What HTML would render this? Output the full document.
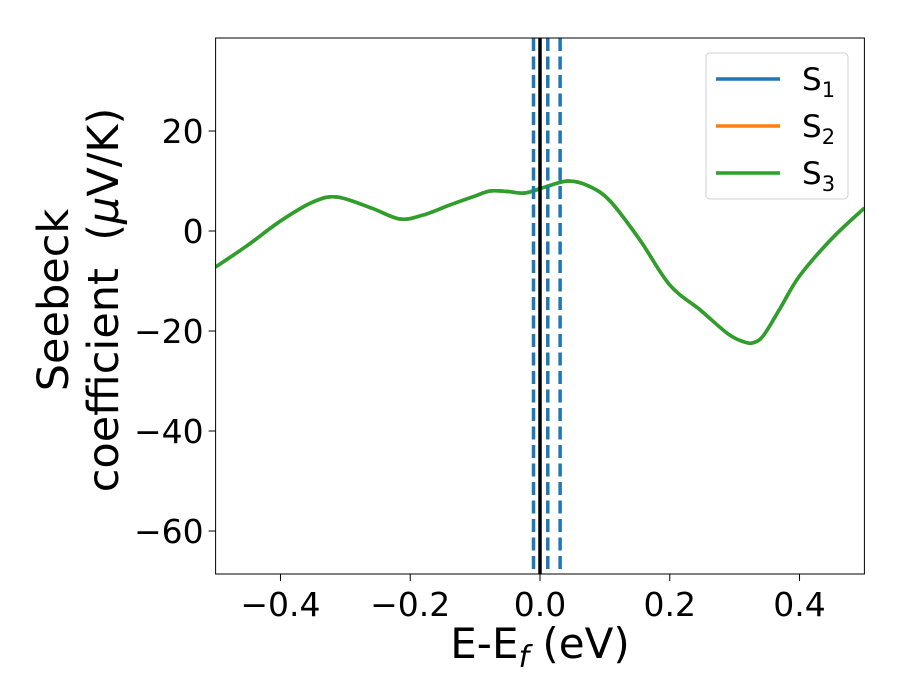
<!DOCTYPE html>
<html><head><meta charset="utf-8"><style>
body{margin:0;background:#fff}
svg{display:block;font-family:"DejaVu Sans","Liberation Sans",sans-serif}
</style></head><body>
<svg width="900" height="700" viewBox="0 0 900 700">
<g id="plot"></g>
</svg>
<script>
const energies=[-0.5,-0.45,-0.4,-0.35,-0.313,-0.26,-0.216,-0.18,-0.139,-0.1,-0.077,-0.05,-0.023,0.008,0.043,0.075,0.108,0.154,0.2,0.247,0.29,0.315,0.33,0.345,0.37,0.4,0.45,0.5];
const seebeck=[-7.2,-2.8,2,5.8,6.8,4.6,2.4,3.2,5.2,7,8,7.9,7.6,8.8,10,9,6,-1.8,-10.8,-15.8,-20.6,-22.2,-22.3,-20.8,-15.5,-9,-1.5,4.6];
const vlinesDashed=[-0.01,0.012,0.031];
const xTicks=[-0.4,-0.2,0.0,0.2,0.4];
const xTickLabels=["\u22120.4","\u22120.2","0.0","0.2","0.4"];
const yTicks=[20,0,-20,-40,-60];
const yTickLabels=["20","0","\u221220","\u221240","\u221260"];
const seriesNames=["1","2","3"];
const seriesColors=["#1f77b4","#ff7f0e","#2ca02c"];

const L=215.6,R=864.4,T=38,B=574;
const xMin=-0.5,xMax=0.5,yMin=-68.6,yMax=38.6;
const X=v=>L+(v-xMin)/(xMax-xMin)*(R-L);
const Y=v=>B-(v-yMin)/(yMax-yMin)*(B-T);
const NS="http://www.w3.org/2000/svg";
const g=document.getElementById('plot');
function mk(tag,attrs,parent){const e=document.createElementNS(NS,tag);for(const k in attrs)e.setAttribute(k,attrs[k]);(parent||g).appendChild(e);return e;}

const clip=mk('clipPath',{id:'c'});mk('rect',{x:L,y:T,width:R-L,height:B-T},clip);

const pts=energies.map((e,i)=>[X(e),Y(seebeck[i])]);
let d=`M${pts[0][0]},${pts[0][1]}`;
for(let i=0;i<pts.length-1;i++){const p0=pts[Math.max(0,i-1)],p1=pts[i],p2=pts[i+1],p3=pts[Math.min(pts.length-1,i+2)];
d+=` C${p1[0]+(p2[0]-p0[0])/6},${p1[1]+(p2[1]-p0[1])/6} ${p2[0]-(p3[0]-p1[0])/6},${p2[1]-(p3[1]-p1[1])/6} ${p2[0]},${p2[1]}`;}
seriesColors.forEach((c,i)=>{const p=mk('path',{d:d,fill:'none',stroke:c,'stroke-width':3.5,'clip-path':'url(#c)'});

});

vlinesDashed.forEach((v,i)=>{const l=mk('line',{x1:X(v),x2:X(v),y1:T,y2:B,stroke:'#1f77b4','stroke-width':3.5,'stroke-dasharray':'13,5.5'});

});
const fl=mk('line',{x1:X(0),x2:X(0),y1:T,y2:B,stroke:'#000','stroke-width':3.5});



const fr=mk('rect',{x:L,y:T,width:R-L,height:B-T,fill:'none',stroke:'#000','stroke-width':1});



xTicks.forEach((v,i)=>{mk('line',{x1:X(v),x2:X(v),y1:B,y2:B+7,stroke:'#000','stroke-width':1});
const t=mk('text',{x:X(v),y:B+42,'text-anchor':'middle','font-size':33});t.textContent=xTickLabels[i];

});
yTicks.forEach((v,i)=>{mk('line',{x1:L-7,x2:L,y1:Y(v),y2:Y(v),stroke:'#000','stroke-width':1});
const t=mk('text',{x:L-12,y:Y(v)+12,'text-anchor':'end','font-size':33});t.textContent=yTickLabels[i];

});

const xt=mk('text',{x:540,y:658,'text-anchor':'middle','font-size':42});
xt.innerHTML='E-E<tspan font-style="italic" font-size="30" dy="9">f</tspan><tspan dy="-9"> (eV)</tspan>';


const yt=mk('text',{transform:'translate(68,300) rotate(-90)','text-anchor':'middle','font-size':43});
yt.innerHTML='<tspan x="0" dy="0">Seebeck</tspan><tspan x="0" dy="50" xml:space="preserve">coefficient  (<tspan font-style="italic">μ</tspan>V/K)</tspan>';



const lg=mk('g',{});


mk('rect',{x:706,y:53,width:142,height:146,rx:4,fill:'#fff',stroke:'#ccc','stroke-width':1,opacity:0.9},lg);
seriesColors.forEach((c,i)=>{const y=79+i*47;
const ln=mk('line',{x1:716,x2:780,y1:y,y2:y,stroke:c,'stroke-width':3.5},lg);


const t=mk('text',{x:802,y:y+11,'font-size':31},lg);
t.innerHTML='S<tspan font-size="21" dy="7">'+seriesNames[i]+'</tspan>';

});
</script>
</body></html>
